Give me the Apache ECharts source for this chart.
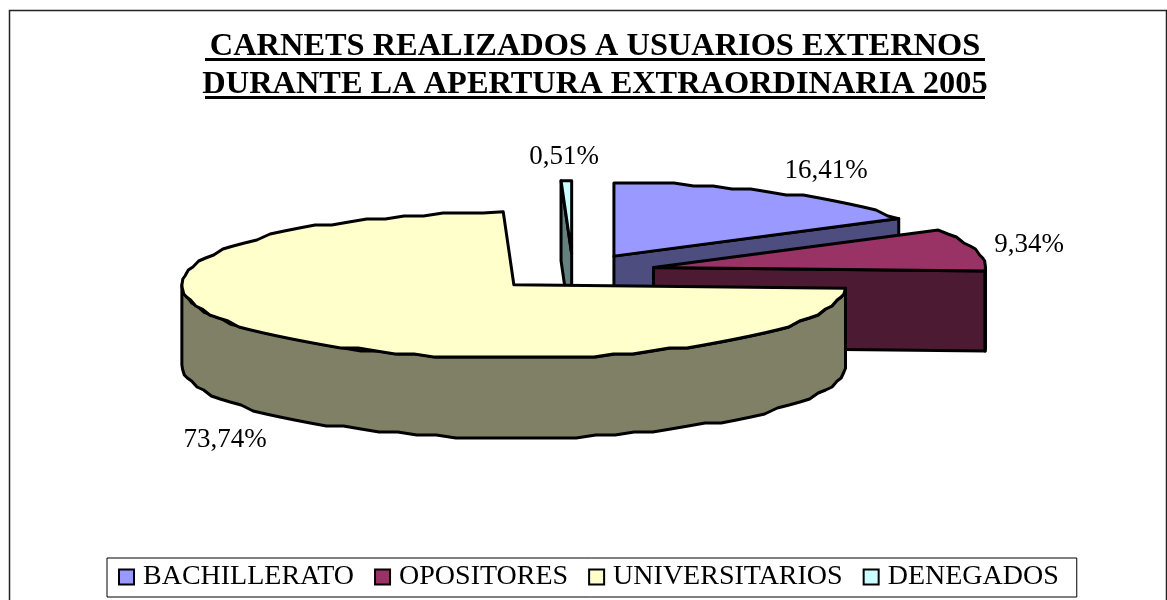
<!DOCTYPE html>
<html><head><meta charset="utf-8">
<script src="https://cdn.jsdelivr.net/npm/echarts@6/dist/echarts.min.js"></script>
<style>html,body{margin:0;padding:0;background:#fff}#c{width:1167px;height:600px}</style>
</head><body><div id="c"></div>
<script>
var categories = ['BACHILLERATO','OPOSITORES','UNIVERSITARIOS','DENEGADOS'];
var percentages = [16.41, 9.34, 73.74, 0.51];
var percentLabels = ['16,41%','9,34%','73,74%','0,51%'];
var topColors = ['#9999FF','#993366','#FFFFCC','#CCFFFF'];
var wallColors = ['#4D4D80','#4D1A33','#808066','#668080'];
var labelAnchors = [[826,171],[1029,245],[225,440],[564,157]];
var titleLines = 'CARNETS REALIZADOS A USUARIOS EXTERNOS\nDURANTE LA APERTURA EXTRAORDINARIA 2005';

var CX=573, CY=272, RX=332, RY=73, DEPTH=80, EXPLODE=0.25, STEP=3.5, SNAP=3;
var total = percentages.reduce(function(a,b){return a+b;},0);
var starts = []; (function(){var s=0;percentages.forEach(function(v){starts.push(s);s+=v/total*360;});})();

function rad(d){return d*Math.PI/180;}
function pt(apex,a,dz){
  return [apex[0]+RX*Math.sin(rad(a)), apex[1]-RY*Math.cos(rad(a))+(dz||0)];
}
function snap(p){return [p[0],Math.round(p[1]/SNAP)*SNAP];}
function arc(apex,a,b,dz){
  var out=[pt(apex,a,dz)],n=Math.max(1,Math.ceil((b-a)/STEP));
  for(var i=1;i<n;i++){out.push(snap(pt(apex,a+(b-a)*i/n,dz)));}
  out.push(pt(apex,b,dz));
  return out;
}
function sliceItem(i){
  return function(params,api){
    var share=api.value(0), a=starts[i], b=a+share/total*360, mid=(a+b)/2;
    var apex=[CX+EXPLODE*RX*Math.sin(rad(mid)), CY-EXPLODE*RY*Math.cos(rad(mid))];
    var wall={fill:wallColors[i],stroke:'#000',lineWidth:3,lineJoin:'round'};
    var kids=[];
    function addPoly(points,style){kids.push({type:'polygon',shape:{points:points},style:style});}
    if(a>180&&a<360){
      var s=pt(apex,a);
      addPoly([s,apex,[apex[0],apex[1]+DEPTH],[s[0],s[1]+DEPTH]],wall);
    }
    if(b>0&&b<180){
      var e=pt(apex,b);
      addPoly([apex,e,[e[0],e[1]+DEPTH],[apex[0],apex[1]+DEPTH]],wall);
    }
    var wa=Math.max(a,90), wb=Math.min(b,270);
    if(wb>wa){
      addPoly(arc(apex,wa,wb,0).concat(arc(apex,wa,wb,DEPTH).reverse()),wall);
    }
    addPoly([apex].concat(arc(apex,a,b,0)),{fill:topColors[i],stroke:'#000',lineWidth:3,lineJoin:'round'});
    kids.push({type:'text',x:labelAnchors[i][0],y:labelAnchors[i][1],z2:50,
      style:{text:percentLabels[i],fill:'#000',font:'27px "Liberation Serif"',align:'center',verticalAlign:'middle'}});
    return {type:'group',children:kids};
  };
}
var series = categories.map(function(name,i){
  return {type:'custom',name:name,coordinateSystem:'none',clip:false,
    z:[2,5,6,1][i],
    renderItem:sliceItem(i),
    data:[[percentages[i]]],
    itemStyle:{color:topColors[i],borderColor:'#000',borderWidth:3},
    silent:true,animation:false};
});
var chart = echarts.init(document.getElementById('c'),null,{renderer:'canvas'});
chart.setOption({
  backgroundColor:'#fff',animation:false,
  title:{text:titleLines,left:590,top:23,textAlign:'center',
    textStyle:{fontFamily:'Liberation Serif',fontWeight:'bold',fontSize:32.4,lineHeight:38,color:'#000'}},
  legend:{data:categories,left:107,top:558,orient:'horizontal',
    width:969,height:40,padding:[5,18,6,11],itemWidth:15,itemHeight:15,itemGap:20,
    borderColor:'#000',borderWidth:1,backgroundColor:'#fff',selectedMode:false,icon:'rect',
    textStyle:{fontFamily:'Liberation Serif',fontSize:28,color:'#000',padding:[0,0,0,4]}},
  graphic:[
    {type:'rect',shape:{x:205,y:58,width:780,height:3},style:{fill:'#000'}},
    {type:'rect',shape:{x:205,y:96,width:780,height:3},style:{fill:'#000'}},
    {type:'polyline',shape:{points:[[9.5,600],[9.5,10.5],[1166.5,10.5],[1166.5,600]]},style:{stroke:'#222',lineWidth:1.5,fill:null}}
  ],
  series:series
});
</script></body></html>
